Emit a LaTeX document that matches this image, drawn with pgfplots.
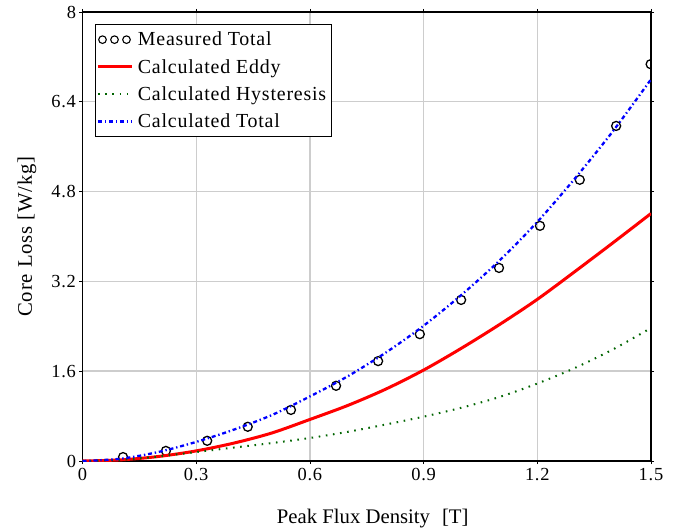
\documentclass[border=0pt]{standalone}
\usepackage{fontspec}
\setmainfont{Liberation Serif}
\newfontfamily\lsfont[LetterSpace=4]{Liberation Serif}
\usepackage{pgfplots}
\pgfplotsset{compat=1.18}

\definecolor{hystgreen}{RGB}{0,100,0}
\definecolor{gridgray}{RGB}{205,205,205}

\begin{document}
\begin{tikzpicture}
\begin{axis}[
  scale only axis,
  width=568.5bp, height=449bp,
  xmin=0, xmax=1.5, ymin=0, ymax=8,
  xtick={0,0.3,0.6,0.9,1.2,1.5},
  ytick={0,1.6,3.2,4.8,6.4,8},
  grid=major,
  major grid style={gridgray, line width=1.4bp},
  axis line style={black, line width=1.5bp},
  tick align=outside, major tick length=3bp,
  tick style={black, line width=0.8bp},
  clip marker paths=true,
  /pgf/number format/assume math mode=true,
  ticklabel style={font=\fontsize{18.5}{21}\lsfont},
  xticklabel style={yshift=-1bp},
  xlabel={Peak Flux Density\hspace{12bp}[T]},
  ylabel={Core Loss [W/kg]},
  xlabel style={font=\fontsize{20.8}{24}\selectfont, at={(rel axis cs:0.5,0)}, anchor=center, yshift=-58bp, xshift=6bp},
  ylabel style={font=\fontsize{20.8}{24}\lsfont, at={(rel axis cs:0,0.5)}, anchor=center, yshift=55.5bp},
  legend cell align=left,
  legend style={at={(rel axis cs:0,1)}, anchor=north west, xshift=12.5bp, yshift=-12bp,
    draw=black, line width=1bp, fill=white,
    font=\fontsize{20}{23}\lsfont, inner xsep=1bp, inner ysep=1.5bp,
    nodes={inner xsep=4.4bp, inner ysep=6bp}},
]
\coordinate (bl) at (rel axis cs:0,0);
\coordinate (tr) at (rel axis cs:1,1);

\addplot[black, line width=1.3bp, only marks, mark=o, mark size=4.5bp,
  legend image code/.code={
    \draw[black, line width=1.1bp] (4.5bp,0) circle (3.8bp);
    \draw[black, line width=1.1bp] (16.5bp,0) circle (3.8bp);
    \draw[black, line width=1.1bp] (28.5bp,0) circle (3.8bp);
  }] coordinates {
  (0.107,0.07) (0.220,0.18) (0.329,0.36) (0.436,0.61) (0.550,0.91)
  (0.669,1.34) (0.780,1.78) (0.890,2.26) (0.999,2.87) (1.099,3.44)
  (1.207,4.19) (1.312,5.01) (1.408,5.97) (1.499,7.07)
};
\addlegendentry{Measured Total}

\addplot[red, line width=3bp, smooth,
  legend image code/.code={\draw[red, line width=3bp] (0bp,0) -- (34bp,0);}] coordinates {
  (0,0) (0.1,0.02) (0.2,0.08) (0.3,0.18) (0.4,0.32) (0.5,0.50) (0.6,0.74)
  (0.7,0.99) (0.8,1.28) (0.9,1.62) (1.0,2.01) (1.1,2.43) (1.2,2.88)
  (1.3,3.38) (1.4,3.89) (1.5,4.41)
};
\addlegendentry{Calculated Eddy}

\addplot[hystgreen, line width=2bp, smooth, dash pattern=on 1.6bp off 5.6bp,
  legend image code/.code={\draw[hystgreen, line width=2bp, dash pattern=on 1.6bp off 5.6bp] (0bp,0) -- (34bp,0);}] coordinates {
  (0,0) (0.1,0.02) (0.2,0.08) (0.3,0.16) (0.4,0.24) (0.5,0.32) (0.6,0.41)
  (0.7,0.52) (0.8,0.65) (0.9,0.79) (1.0,0.95) (1.1,1.14) (1.2,1.38)
  (1.3,1.66) (1.4,1.99) (1.5,2.37)
};
\addlegendentry{Calculated Hysteresis}

\addplot[blue, line width=2.3bp, smooth, dash pattern=on 4bp off 2.8bp on 1.4bp off 2.8bp,
  legend image code/.code={\draw[blue, line width=2.3bp, dash pattern=on 4bp off 2.8bp on 1.4bp off 2.8bp] (0bp,0) -- (34bp,0);}] coordinates {
  (0,0) (0.1,0.04) (0.2,0.16) (0.3,0.34) (0.4,0.56) (0.5,0.82) (0.6,1.15)
  (0.7,1.51) (0.8,1.93) (0.9,2.41) (1.0,2.96) (1.1,3.57) (1.2,4.26)
  (1.3,5.04) (1.4,5.88) (1.5,6.80)
};
\addlegendentry{Calculated Total}
\end{axis}
% keep the reference's margins
\path ([shift={(-82.5bp,-71bp)}]bl) rectangle ([shift={(29bp,12bp)}]tr);
\end{tikzpicture}
\end{document}
